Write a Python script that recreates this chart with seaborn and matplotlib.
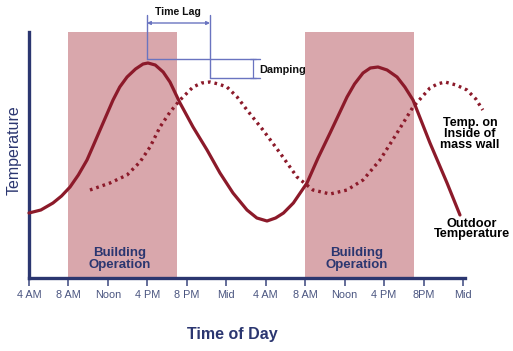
import matplotlib
matplotlib.use("Agg")
import matplotlib.pyplot as plt
import seaborn as sns
import pandas as pd

# ---- data (hours after 4 AM, temperature in arbitrary units) ----
tick_hours = [0, 4, 8, 12, 16, 20, 24, 28, 32, 36, 40, 44]
tick_labels = ["4 AM", "8 AM", "Noon", "4 PM", "8 PM", "Mid",
               "4 AM", "8 AM", "Noon", "4 PM", "8PM", "Mid"]

outdoor_h = [0.0, 1.2, 2.43, 3.3, 4.16, 5.0, 5.88, 6.5, 7.2, 8.52, 9.2, 9.94, 10.8,
             11.56, 12.06, 12.8, 13.6, 14.29, 15.31, 16.63, 18.05, 19.36, 20.68,
             22.1, 23.1, 24.13, 25.0, 25.8, 26.8, 28.18, 29.3, 30.52, 32.24, 33.0,
             33.86, 34.6, 35.38, 36.3, 37.31, 38.1, 38.93, 40.65, 42.38, 43.69]
outdoor_t = [65, 68, 75, 82, 91, 103, 118, 132, 148, 178, 191, 201, 209,
             214, 215, 213, 206, 196, 175, 151, 128, 105, 85,
             68, 60, 57, 60, 65, 75, 95, 120, 145, 181, 194,
             205, 210, 211, 208, 201, 191, 178, 135, 95, 63]

inside_h = [6.18, 8.21, 9.94, 11.25, 12.27, 13.28, 14.3, 15.31, 16.63, 17.5, 18.35,
            19.2, 20.07, 21.1, 22.1, 23.72, 25.45, 27.17, 28.79, 30.52, 32.24,
            33.86, 35.58, 37.31, 38.93, 40.65, 41.4, 42.17, 43.3, 44.4, 45.3, 46.0]
inside_t = [88, 95, 103, 116, 131, 151, 166, 178, 191, 195, 196,
            194, 191, 181, 168, 148, 125, 101, 88, 84, 88,
            98, 118, 145, 171, 190, 194, 196, 193, 188, 179, 168]

op_start = [4, 28]
op_end = [15, 39]

# ---- style ----
navy = "#2b3670"
red = "#8c1a2a"
ann = "#6a74c0"
sns.set_style("white")
plt.rcParams["font.family"] = ["Liberation Sans", "DejaVu Sans"]

fig = plt.figure(figsize=(5.13, 3.51), dpi=100)
ax = fig.add_axes([29 / 513, 73 / 351, 436 / 513, 246 / 351])

for s, e in zip(op_start, op_end):
    ax.axvspan(s, e, ymin=0, ymax=1.0, color="#d9a7ac", lw=0, zorder=0)

df_out = pd.DataFrame({"hour": outdoor_h, "temp": outdoor_t})
df_in = pd.DataFrame({"hour": inside_h, "temp": inside_t})
sns.lineplot(data=df_out, x="hour", y="temp", ax=ax, color=red, lw=2.3,
             sort=False, zorder=3, clip_on=False)
sns.lineplot(data=df_in, x="hour", y="temp", ax=ax, color=red, lw=2.4,
             sort=False, zorder=3, clip_on=False, dashes=False,
             linestyle=(0, (0.8, 1.2)))

ax.set_xlim(0, 44.2)
ax.set_ylim(0, 246)
ax.set_xticks(tick_hours)
ax.set_xticklabels(tick_labels)
ax.set_yticks([])
ax.set_xlabel("")
ax.set_ylabel("")
for side in ["top", "right"]:
    ax.spines[side].set_visible(False)
for side in ["left", "bottom"]:
    ax.spines[side].set_color(navy)
    ax.spines[side].set_linewidth(2.4)
ax.tick_params(axis="x", direction="out", length=6, width=1.2, color="#4a5588",
               labelsize=7.8, labelcolor="#4a5580", pad=3, bottom=True)

# region labels
for s, e in zip(op_start, op_end):
    ax.text((s + e) / 2 - 0.3, 19, "Building\nOperation", ha="center", va="center",
            fontsize=9.5, fontweight="bold", color=navy, linespacing=0.9, zorder=4)

# time lag / damping annotation
xl, xr, xe, xb = 11.96, 18.35, 23.42, 22.71
ax.plot([xl, xl], [219, 263], color=ann, lw=1.0, clip_on=False)
ax.plot([xr, xr], [200, 263], color=ann, lw=1.0, clip_on=False)
ax.plot([xl, xe], [219, 219], color=ann, lw=1.0, clip_on=False)
ax.plot([xr, xe], [200, 200], color=ann, lw=1.0, clip_on=False)
ax.annotate("", xy=(xl, 255), xytext=(xr, 255),
            arrowprops=dict(arrowstyle="<|-|>", color=ann, lw=1.0,
                            mutation_scale=5, shrinkA=0, shrinkB=0),
            annotation_clip=False)
ax.plot([xb, xb], [200, 219], color=ann, lw=0.9, clip_on=False)
ax.plot([xb - 0.3, xb + 0.3], [219, 219], color=ann, lw=0.9, clip_on=False)
ax.plot([xb - 0.3, xb + 0.3], [200, 200], color=ann, lw=0.9, clip_on=False)
ax.text(15.1, 266, "Time Lag", ha="center", va="center", fontsize=7.6,
        fontweight="bold", color="#111111", clip_on=False)
ax.text(23.3, 208, "Damping", ha="left", va="center", fontsize=7.8,
        fontweight="bold", color="#111111", clip_on=False)

# series labels
ax.text(44.7, 144, "Temp. on\nInside of\nmass wall", ha="center", va="center",
        fontsize=9, fontweight="bold", color="black", linespacing=0.85, clip_on=False)
ax.text(44.9, 49, "Outdoor\nTemperature", ha="center", va="center",
        fontsize=9.2, fontweight="bold", color="black", linespacing=0.85, clip_on=False)

fig.text(232 / 513, 1 - 335 / 351, "Time of Day", ha="center", va="center",
         fontsize=11.5, fontweight="bold", color=navy)
fig.text(14 / 513, 1 - 150 / 351, "Temperature", ha="center", va="center",
         fontsize=11.5, rotation=90, color=navy)

fig.savefig("out.png", dpi=100)
